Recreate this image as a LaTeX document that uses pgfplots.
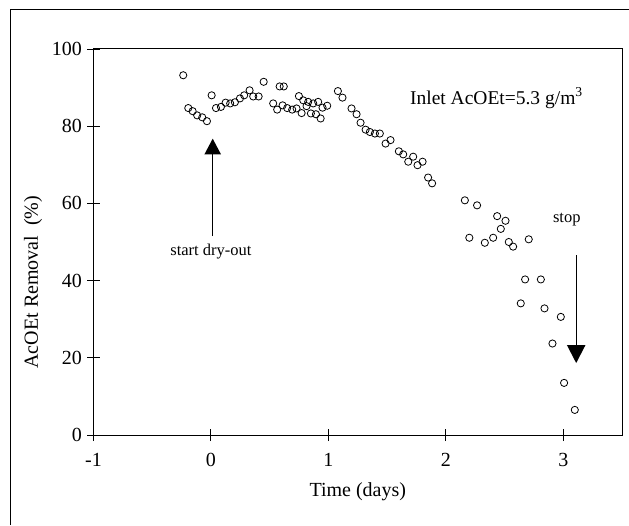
\documentclass[border=0pt]{standalone}
\usepackage{pgfplots}
\pgfplotsset{compat=1.18}
\usepackage{fontspec}
\setmainfont{Liberation Serif}
\begin{document}
\begin{tikzpicture}
\begin{axis}[
  scale only axis,
  width=528.5pt, height=386pt,
  xmin=-1, xmax=3.5, ymin=0, ymax=100,
  xtick={-1,0,1,2,3}, ytick={0,20,40,60,80,100},
  tick align=center, major tick length=12pt,
  xtick pos=bottom, ytick pos=left,
  axis line style={line width=1pt},
  tick style={line width=0.9pt, black},
  /pgf/number format/assume math mode=true,
  ticklabel style={font=\fontsize{20}{23}\selectfont},
  xticklabel style={yshift=-9pt},
  yticklabel style={xshift=-2pt},
  label style={font=\fontsize{20}{23}\selectfont},
  xlabel={Time (days)},
  ylabel={AcOEt Removal\ \ (\%)},
  xlabel style={at={(axis description cs:0.5,-0.147)}, anchor=center},
  ylabel style={at={(axis description cs:-0.1145,0.396)}, anchor=center},
  clip=false,
]
\addplot[only marks, mark=o, mark size=3.6pt, mark options={line width=0.8pt, black}] coordinates {
(-0.236,93.2) (-0.193,84.7) (-0.156,83.9) (-0.117,82.8) (-0.074,82.3) (-0.034,81.3)
(0.006,88.0) (0.043,84.7) (0.085,85.0) (0.125,86.1) (0.164,85.9) (0.204,86.2)
(0.247,87.2) (0.283,88.0) (0.329,89.3) (0.36,87.7) (0.406,87.7) (0.449,91.5)
(0.53,85.9) (0.564,84.3) (0.585,90.3) (0.62,90.3) (0.61,85.4) (0.649,84.7)
(0.692,84.3) (0.729,84.6) (0.749,87.8) (0.772,83.4) (0.786,86.7) (0.814,85.2)
(0.828,86.3) (0.851,83.3) (0.871,85.9) (0.894,83.1) (0.913,86.3) (0.934,82.0)
(0.95,84.8) (0.99,85.3) (1.081,89.1) (1.12,87.4) (1.197,84.6) (1.24,83.1)
(1.274,80.9) (1.317,79.1) (1.353,78.5) (1.396,78.1) (1.438,78.1) (1.487,75.5)
(1.529,76.4) (1.6,73.5) (1.637,72.7) (1.68,70.8) (1.722,72.1) (1.759,69.9)
(1.802,70.8) (1.849,66.7) (1.883,65.2) (2.162,60.8) (2.266,59.5) (2.437,56.7)
(2.508,55.5) (2.468,53.4) (2.2,51.1) (2.332,49.8) (2.403,51.1) (2.536,50.0)
(2.573,48.8) (2.706,50.7) (2.675,40.3) (2.809,40.3) (2.638,34.1) (2.84,32.8)
(2.979,30.6) (2.908,23.7) (3.007,13.5) (3.098,6.5)
};
% start dry-out arrow
\draw[line width=0.9pt] (axis cs:0.015,51.5) -- (axis cs:0.015,73);
\fill (axis cs:0.015,72.7) ++(-8.3pt,0pt) -- ++(16.6pt,0pt) -- ++(-8.3pt,15.7pt) -- cycle;
\node[font=\fontsize{16.5}{19}\selectfont] at (axis cs:0,47.4) {start dry-out};
% stop arrow
\draw[line width=0.9pt] (axis cs:3.11,46.6) -- (axis cs:3.11,23);
\fill (axis cs:3.11,23.3) ++(-9.3pt,0pt) -- ++(18.6pt,0pt) -- ++(-9.3pt,-18pt) -- cycle;
\node[font=\fontsize{16.5}{19}\selectfont] at (axis cs:3.03,55.7) {stop};
\node[anchor=base west, inner sep=0pt, font=\fontsize{19.5}{22}\selectfont] at (axis cs:1.694,85.7) {Inlet AcOEt=5.3 g/m\textsuperscript{3}};
\end{axis}
\draw[line width=1pt] ([shift={(-82.5pt,-90pt)}]current axis.south west) -- ([shift={(-82.5pt,425pt)}]current axis.south west) -- ([shift={(535.5pt,425pt)}]current axis.south west);
\pgfresetboundingbox
\useasboundingbox ([shift={(-93.5pt,-90pt)}]current axis.south west) rectangle ([shift={(535.5pt,435pt)}]current axis.south west);
\end{tikzpicture}
\end{document}
